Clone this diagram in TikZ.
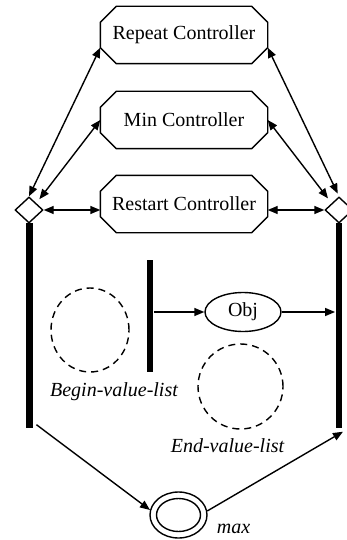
\documentclass[tikz,border=0pt]{standalone}
\usepackage{fontspec}
\setmainfont{Liberation Serif}
\usetikzlibrary{arrows.meta,shapes.geometric,calc}
\begin{document}
\begin{tikzpicture}[x=1pt,y=-1pt,line width=1.4pt,
  txt/.style={font=\fontsize{20}{24}\selectfont},
  ctrl/.style={txt,rectangle,minimum width=166pt,minimum height=56pt,inner sep=0pt},
  gate/.style={diamond,draw,fill=white,minimum width=28pt,minimum height=26pt,inner sep=0pt},
  bar/.style={fill=black,draw=none,minimum width=6.5pt,inner sep=0pt},
  dashring/.style={ellipse,draw,dash pattern=on 7pt off 5pt,inner sep=0pt},
  lab/.style={txt,font=\fontsize{20}{24}\selectfont\itshape,anchor=base,inner sep=0pt},
  arr/.style={-{Triangle[length=10pt,width=8pt]}},
  biarr/.style={{Triangle[length=10pt,width=8pt]}-{Triangle[length=10pt,width=8pt]}}]
\useasboundingbox (0,0) rectangle (347,540);

% controllers
\node[ctrl] (rep) at (184,35) {Repeat Controller};
\node[ctrl] (min) at (184,120) {Min Controller};
\node[ctrl] (rst) at (184,204) {Restart Controller};
\foreach \n in {rep,min,rst}{
  \draw ($(\n.north west)+(16,0)$) -- ($(\n.north east)+(-16,0)$) -- ($(\n.north east)+(0,16)$)
     -- ($(\n.south east)+(0,-16)$) -- ($(\n.south east)+(-16,0)$) -- ($(\n.south west)+(16,0)$)
     -- ($(\n.south west)+(0,-16)$) -- ($(\n.north west)+(0,16)$) -- cycle;
}
\coordinate (repLL) at ($(rep.south west)+(0,-16)$);
\coordinate (repLR) at ($(rep.south east)+(0,-16)$);

% bars
\node[bar,minimum height=205pt] (lb) at (29.5,325.5) {};
\node[bar,minimum height=205pt] (rb) at (339,325.5) {};
\node[bar,minimum height=112pt] (mb) at (150,316) {};

% gates
\node[gate] (L) at (29,210) {};
\node[gate] (R) at (339,210) {};

% Obj
\node[txt,ellipse,draw,minimum width=76pt,minimum height=39pt,inner sep=0pt] (obj) at (243,312) {Obj};

% dashed rings
\node[dashring,minimum width=78pt,minimum height=84pt] (bvl) at (90,330) {};
\node[dashring,minimum width=85pt,minimum height=85pt] (evl) at (240.5,386.5) {};
\node[lab] (bvlt) at (114,396) {Begin-value-list};
\node[lab] (evlt) at (227.5,452) {End-value-list};

% max
\node[ellipse,draw,minimum width=57pt,minimum height=46pt,inner sep=0pt] (mx) at (178.5,515) {};
\node[ellipse,draw,minimum width=44pt,minimum height=33pt,inner sep=0pt] (mxi) at (178.5,515) {};
\node[lab] (mxt) at (233.5,533) {max};

% connectors top
\draw[biarr] (L.north) -- (repLL);
\draw[biarr,shorten <=5pt] (L.north east) -- (min.west);
\draw[biarr] (L.east) -- (L.east -| rst.west);
\draw[biarr,shorten >=3pt] (repLR) -- (R.north);
\draw[biarr,shorten >=6pt] (min.east) -- (R.north west);
\draw[biarr] (R.west -| rst.east) -- (R.west);

% middle
\draw[arr] (mb.east |- obj.west) -- (obj.west);
\draw[arr] (obj.east) -- (obj.east -| rb.west);

% bottom
\coordinate (lbs) at ($(lb.south east)+(3,-4)$);
\coordinate (rbs) at ($(rb.south east)+(0,3)$);
\draw[arr] (lbs) -- (mx.170);
\draw[arr] (mx.8) -- (rbs);
\end{tikzpicture}
\end{document}
